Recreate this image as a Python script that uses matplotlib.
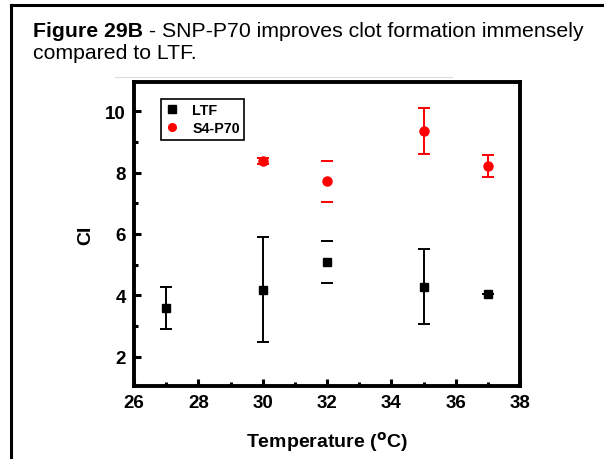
import matplotlib
matplotlib.use("Agg")
import matplotlib.pyplot as plt
from matplotlib.lines import Line2D

plt.rcParams['font.family'] = ['Liberation Sans', 'DejaVu Sans']

temps_ltf = [27, 30, 32, 35, 37]
ci_ltf = [3.58, 4.19, 5.09, 4.28, 4.03]
err_ltf = [0.68, 1.71, 0.68, 1.22, 0.0]

temps_s4 = [30, 32, 35, 37]
ci_s4 = [8.39, 7.71, 9.35, 8.2]
err_s4 = [0.10, 0.67, 0.75, 0.36]

xticks = [26, 28, 30, 32, 34, 36, 38]
yticks = [2, 4, 6, 8, 10]

W, H = 604, 460
fig = plt.figure(figsize=(W / 100, H / 100), dpi=100)

# outer frame (top and left)
fig.add_artist(Line2D([11/W, 1.0], [1 - 6/H, 1 - 6/H], color='black', lw=2.2,
                      transform=fig.transFigure))
fig.add_artist(Line2D([11/W, 11/W], [0, 1 - 6/H], color='black', lw=2.2,
                      transform=fig.transFigure))
# faint line above plot
fig.add_artist(Line2D([115/W, 452/W], [1 - 78/H, 1 - 78/H], color='#dddddd', lw=0.8,
                      transform=fig.transFigure))

# title: bold part + normal part
title_fs = 15.3
renderer = fig.canvas.get_renderer()
tb = fig.text(33/W, 1 - 37/H, "Figure 29B", fontsize=title_fs, fontweight='bold',
              ha='left', va='baseline')
bb = tb.get_window_extent(renderer=renderer)
fig.text(bb.x1 / W, 1 - 37/H, " - SNP-P70 improves clot formation immensely",
         fontsize=title_fs, ha='left', va='baseline')
fig.text(33/W, 1 - 59/H, "compared to LTF.", fontsize=title_fs, ha='left', va='baseline')

ax = fig.add_axes([134/W, 1 - 387/H, 386/W, 304/H])

for x, y, e in zip(temps_ltf, ci_ltf, err_ltf):
    elw = 0 if x == 32 else 1.4
    ax.errorbar(x, y, yerr=e, fmt='s', color='black', ms=6, elinewidth=elw,
                capsize=4, capthick=1.4, zorder=3)
for x, y, e in zip(temps_s4, ci_s4, err_s4):
    elw = 0 if x == 32 else 1.4
    ax.errorbar(x, y, yerr=e, fmt='o', color='red', ms=6.5, elinewidth=elw,
                capsize=4, capthick=1.4, zorder=3)

ax.set_xlim(26, 38)
ax.set_ylim(1.05, 10.95)
ax.set_xticks(xticks)
ax.set_yticks(yticks)
ax.set_xticks([27, 29, 31, 33, 35, 37], minor=True)
ax.set_yticks([3, 5, 7, 9], minor=True)
ax.tick_params(which='major', direction='in', length=5, width=2.2, labelsize=13.5, pad=6)
ax.tick_params(which='minor', direction='in', length=3, width=2.2)
for lab in ax.get_xticklabels() + ax.get_yticklabels():
    lab.set_fontweight('bold')
for s in ax.spines.values():
    s.set_linewidth(2.8)

ax.set_xlabel("Temperature ($\\mathbf{^{o}}$C)", fontsize=14, fontweight='bold', labelpad=13)
ax.set_ylabel("CI", fontsize=14, fontweight='bold', labelpad=8)

handles = [Line2D([], [], marker='s', color='black', ls='none', ms=5.5),
           Line2D([], [], marker='o', color='red', ls='none', ms=5.5)]
leg = ax.legend(handles, ["LTF", "S4-P70"], loc='upper left', bbox_to_anchor=(0.07, 0.945),
                fancybox=False, edgecolor='black', framealpha=1,
                prop={'weight': 'bold', 'size': 10.3},
                handlelength=1.0, handletextpad=0.9, borderpad=0.3, labelspacing=0.3,
                borderaxespad=0.0)
leg.get_frame().set_linewidth(1.2)

fig.savefig("out.png", dpi=100)
